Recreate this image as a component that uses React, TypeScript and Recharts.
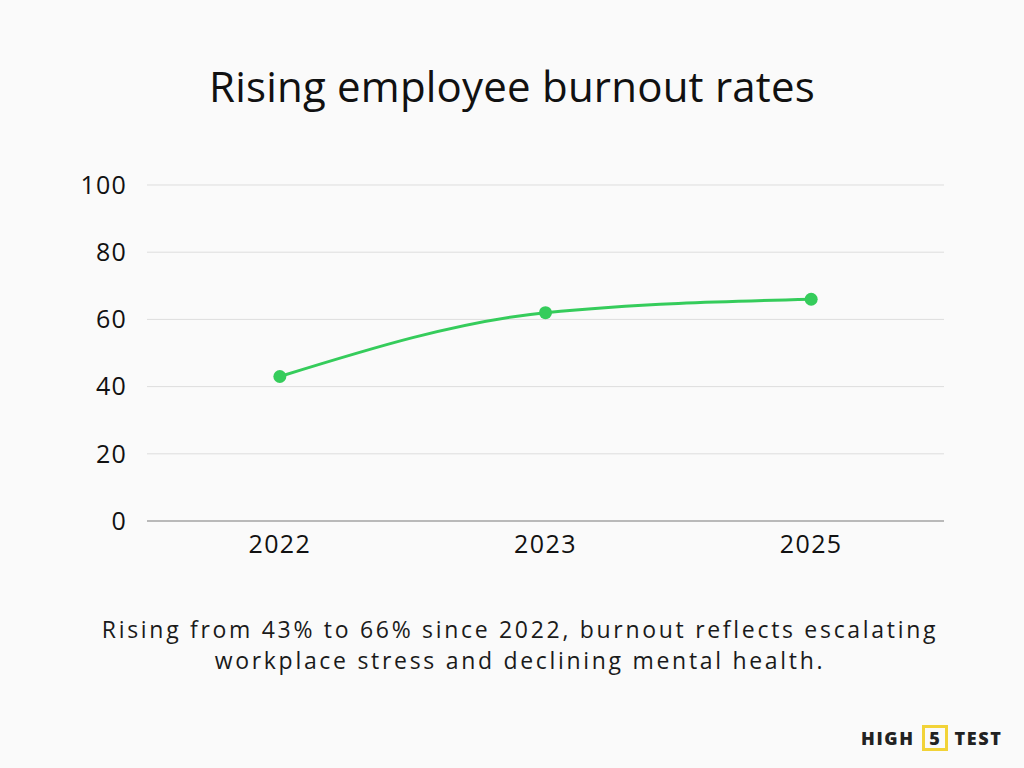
import React from "react";
import { LineChart, Line, XAxis, YAxis, CartesianGrid } from "recharts";

const years = ["2022", "2023", "2025"];
const burnout = [43, 62, 66];
const yTicks = [0, 20, 40, 60, 80, 100];

const data = years.map((y, i) => ({ year: y, value: burnout[i] }));

const FONT = "'Open Sans', 'Noto Sans', sans-serif";

export default function App() {
  return (
    <div
      style={{
        position: "absolute",
        left: 0,
        top: 0,
        width: 1024,
        height: 768,
        background: "#fafafa",
        fontFamily: FONT,
        overflow: "hidden",
      }}
    >
      <div
        style={{
          position: "absolute",
          top: 58,
          left: 0,
          width: 1024,
          textAlign: "center",
          fontSize: 42,
          fontWeight: 500,
          color: "#111",
          letterSpacing: 0.2,
          lineHeight: "56px",
        }}
      >
        Rising employee burnout rates
      </div>
      <div style={{ position: "absolute", left: 0, top: 0 }}>
        <LineChart
          width={1024}
          height={768}
          data={data}
          margin={{ top: 185, right: 80, bottom: 0, left: 0 }}
        >
          <CartesianGrid vertical={false} stroke="#dddddd" strokeWidth={1} />
          <XAxis
            dataKey="year"
            scale="band"
            height={247}
            tickLine={false}
            tickSize={0}
            tickMargin={14}
            axisLine={{ stroke: "#a8a8a8", strokeWidth: 1.5 }}
            tick={{ fill: "#111", fontSize: 25, fontFamily: FONT, letterSpacing: 1.4 }}
          />
          <YAxis
            width={147}
            domain={[0, 100]}
            ticks={yTicks}
            tickLine={false}
            tickSize={0}
            tickMargin={20}
            axisLine={false}
            tick={{ fill: "#111", fontSize: 25, fontFamily: FONT, letterSpacing: 1.2 }}
          />
          <Line
            type="monotone"
            dataKey="value"
            stroke="#35cc5b"
            strokeWidth={3}
            dot={{ r: 6.5, fill: "#35cc5b", stroke: "#35cc5b", strokeWidth: 0 }}
            activeDot={false}
            isAnimationActive={false}
          />
        </LineChart>
      </div>
      <div
        style={{
          position: "absolute",
          top: 614,
          left: 8,
          width: 1024,
          textAlign: "center",
          fontSize: 23,
          lineHeight: "31px",
          color: "#1a1a1a",
          letterSpacing: 2.7,
        }}
      >
        Rising from 43% to 66% since 2022, burnout reflects escalating
        <br />
        workplace stress and declining mental health.
      </div>
      <div
        style={{
          position: "absolute",
          left: 861,
          top: 724,
          height: 28,
          display: "flex",
          alignItems: "center",
          fontSize: 18,
          fontWeight: 800,
          color: "#222",
          letterSpacing: 1.6,
          fontFamily: "'Open Sans', sans-serif",
        }}
      >
        <span>HIGH</span>
        <span
          style={{
            display: "inline-block",
            margin: "0 7px 0 7px",
            width: 20,
            height: 20,
            border: "3px solid #f2d338",
            textAlign: "center",
            lineHeight: "20px",
            letterSpacing: 0,
          }}
        >
          5
        </span>
        <span>TEST</span>
      </div>
    </div>
  );
}
